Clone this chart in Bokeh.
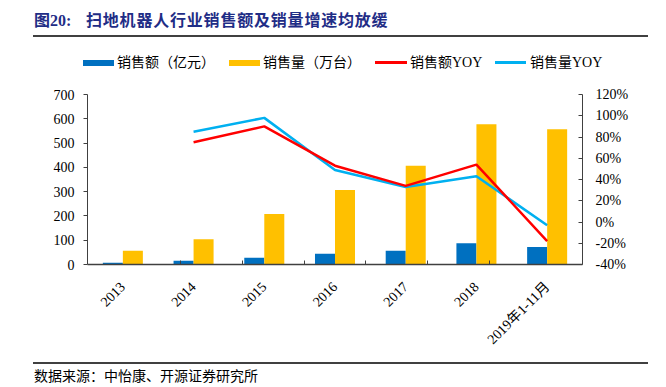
from math import pi
from bokeh.plotting import figure
from bokeh.models import (FactorRange, Range1d, LinearAxis, CategoricalAxis, FixedTicker,
                          PrintfTickFormatter, ColumnDataSource, Div)
from bokeh.transform import dodge
from bokeh.layouts import column
from bokeh.embed import file_html
from bokeh.resources import INLINE

# ---------------- data ----------------
years = ["2013", "2014", "2015", "2016", "2017", "2018", "2019年1-11月"]
sales_value = [7, 15, 28, 44, 57, 88, 72]            # 销售额（亿元）
sales_volume = [57, 104, 208, 307, 407, 577, 557]    # 销售量（万台）
yoy_years = ["2014", "2015", "2016", "2017", "2018", "2019年1-11月"]
value_yoy = [75, 90, 53, 34, 54, -18]                # 销售额YOY (%)
volume_yoy = [85, 98, 49, 33, 43, -3]                # 销售量YOY (%)
left_ticks = [0, 100, 200, 300, 400, 500, 600, 700]
right_ticks = [-40, -20, 0, 20, 40, 60, 80, 100, 120]

title_prefix = "图20:"
title_text = "扫地机器人行业销售额及销量增速均放缓"
source_text = "数据来源：中怡康、开源证券研究所"
legend_labels = ["销售额（亿元）", "销售量（万台）", "销售额YOY", "销售量YOY"]

C_BLUE, C_YELLOW, C_RED, C_CYAN = "#0070C0", "#FFC000", "#FF0000", "#00B0F0"
FONT = "Liberation Serif, Noto Sans CJK SC"
CSS_FONT = "'Liberation Serif','Noto Sans CJK SC'"
AX = "#404040"

W = 660
HEAD_H, MAIN_H, FOOT_H = 80, 275, 30
L, R, T, B = 87, 78, 14, 88

# ---------------- header (title + legend) ----------------
def box(left, top, width, height, color):
    return (f'<div style="position:absolute;left:{left}px;top:{top}px;width:{width}px;'
            f'height:{height}px;background:{color};"></div>')

def rule(left, top, width, color, h):
    return (f'<svg width="{W}" height="{h}" style="position:absolute;left:0px;top:0px;'
            f'overflow:visible;">'
            f'<line x1="{left}" y1="{top}" x2="{left + width}" y2="{top}" '
            f'stroke="{color}" stroke-width="1.5"/></svg>'
            + box(left, top - 1, width, 2, color))

def txt(left, top, text, size=14, color="#000", weight="normal", extra=""):
    return (f'<div style="position:absolute;left:{left}px;top:{top}px;white-space:pre;'
            f'font-family:{CSS_FONT};font-size:{size}px;line-height:16px;color:{color};'
            f'font-weight:{weight};{extra}">{text}</div>')

legend_swatches = [(83, 31, 6, C_BLUE), (229, 31, 6, C_YELLOW),
                   (375, 32, 2.5, C_RED), (495, 31, 2.5, C_CYAN)]
legend_text_x = [117, 263, 410, 530]
ly = 62.7

head_html = '<div style="position:relative;width:%dpx;height:%dpx;">' % (W, HEAD_H)
head_html += rule(33, 36, 615, AX, HEAD_H)
head_html += txt(34, 13, title_prefix, 16, "#1F2D86", "bold")
head_html += txt(86, 13, title_text, 16, "#1F2D86", "bold", "letter-spacing:0.8px;")
for (x, w, h, c) in legend_swatches:
    head_html += box(x, ly - h / 2, w, h, c)
for x, t in zip(legend_text_x, legend_labels):
    head_html += txt(x, ly - 8, t)
head_html += "</div>"
header = Div(text=head_html, width=W, height=HEAD_H, margin=0)

# ---------------- main chart ----------------
p = figure(width=W, height=MAIN_H, x_range=FactorRange(factors=years, range_padding=0),
           y_range=Range1d(0, 700), output_backend="svg", toolbar_location=None,
           x_axis_location=None, y_axis_location=None,
           min_border_left=L, min_border_right=R, min_border_top=T, min_border_bottom=B)
p.outline_line_color = None
p.grid.visible = False
p.extra_y_ranges = {"pct": Range1d(-40, 120)}
# boundary slots between categories (tick marks sit between the groups)
slots = [" " * (i + 1) for i in range(len(years) - 1)]
p.extra_x_ranges = {"slot": FactorRange(factors=slots, range_padding=1,
                                        range_padding_units="absolute")}

src = ColumnDataSource(dict(year=years, val=sales_value, vol=sales_volume))
p.vbar(x=dodge("year", -0.1415, range=p.x_range), top="val", width=0.283, source=src,
       fill_color=C_BLUE, line_color=None)
p.vbar(x=dodge("year", 0.1415, range=p.x_range), top="vol", width=0.283, source=src,
       fill_color=C_YELLOW, line_color=None)
p.line(x=yoy_years, y=volume_yoy, y_range_name="pct", line_color=C_CYAN, line_width=2.5)
p.line(x=yoy_years, y=value_yoy, y_range_name="pct", line_color=C_RED, line_width=2.5)

def style(ax, size="14px"):
    ax.axis_line_color = AX
    ax.major_tick_line_color = AX
    ax.minor_tick_line_color = None
    ax.major_label_text_font = FONT
    ax.major_label_text_font_size = size
    ax.major_label_text_color = "#000000"

axl = LinearAxis(ticker=FixedTicker(ticks=left_ticks))
style(axl)
axl.major_tick_out = 4
axl.major_tick_in = 0
axl.major_label_standoff = 9
p.add_layout(axl, "left")

axr = LinearAxis(y_range_name="pct", ticker=FixedTicker(ticks=right_ticks),
                 formatter=PrintfTickFormatter(format="%d%%"))
style(axr)
axr.major_tick_out = 0
axr.major_tick_in = 4
axr.major_label_standoff = 13
p.add_layout(axr, "right")

axt = CategoricalAxis(x_range_name="slot")
style(axt)
axt.axis_line_width = 1.6
axt.major_tick_in = 4
axt.major_tick_out = 0
axt.major_label_text_font_size = "0px"
axt.major_label_standoff = 0
p.add_layout(axt, "below")

axc = CategoricalAxis()
style(axc)
axc.axis_line_color = None
axc.major_tick_line_color = None
axc.major_label_orientation = pi / 4
axc.major_label_standoff = 14
p.add_layout(axc, "below")

# ---------------- footer (source) ----------------
foot_html = '<div style="position:relative;width:%dpx;height:%dpx;">' % (W, FOOT_H)
foot_html += rule(33, 8, 615, AX, FOOT_H)
foot_html += txt(34, 14, source_text)
foot_html += "</div>"
footer = Div(text=foot_html, width=W, height=FOOT_H, margin=0)

layout = column(header, p, footer, spacing=0)
open("out.html", "w").write(file_html(layout, INLINE))
